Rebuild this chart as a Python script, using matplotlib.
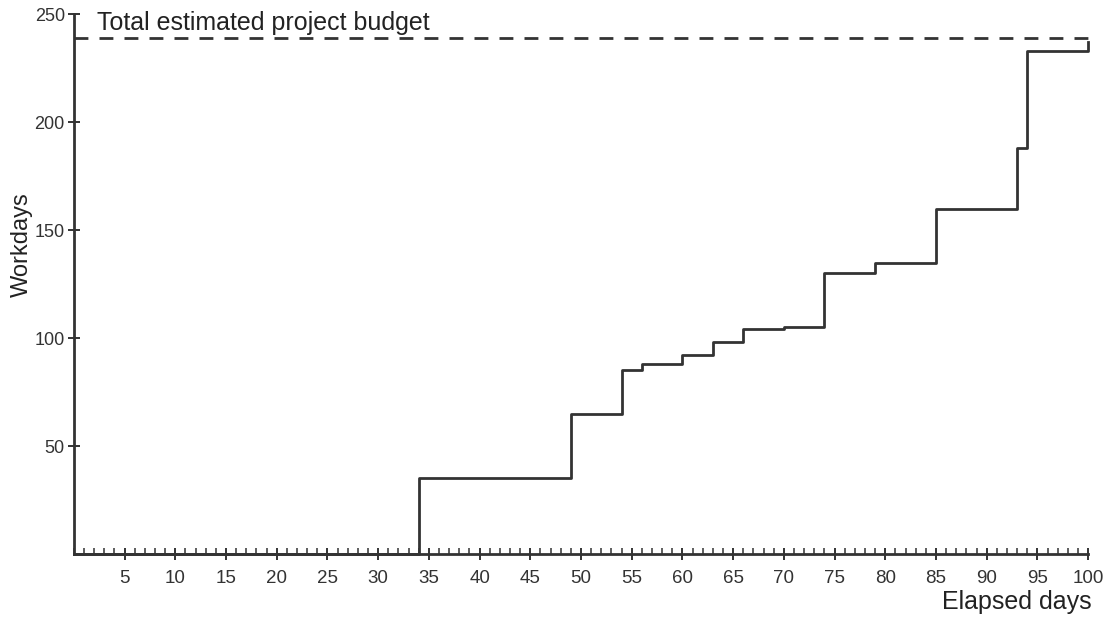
import numpy as np
import matplotlib.pyplot as plt
from matplotlib.ticker import MultipleLocator

plt.rcParams['font.family'] = ['Liberation Sans', 'DejaVu Sans']

# 경과일 / 누적 작업일 (계단형)
days = [0, 34, 49, 54, 56, 60, 63, 66, 70, 74, 79, 85, 93, 94, 100]
workdays = [0, 35, 65, 85, 88, 92, 98, 104, 105, 130, 135, 160, 188, 233, 237]
budget = 239
budget_label = 'Total estimated project budget'
x_ticks = list(range(5, 101, 5))
y_ticks = [50, 100, 150, 200, 250]

fig = plt.figure(figsize=(11.03, 6.2), dpi=100)
ax = fig.add_axes([0.067, 0.1065, 0.9195, 0.8705])

ax.step(days, workdays, where='post', color='#333333', lw=2.0, clip_on=False)
ax.axhline(budget, color='#333333', lw=2.0, ls=(0, (5, 4)), clip_on=False)
ax.text(2.3, 242.5, budget_label, fontsize=18, va='baseline', ha='left', color='#222222')

ax.set_xlim(0, 100)
ax.set_ylim(0, 250)
ax.set_xticks(x_ticks)
ax.set_yticks(y_ticks)
ax.xaxis.set_minor_locator(MultipleLocator(1))

for s in ['top', 'right']:
    ax.spines[s].set_visible(False)
for s in ['left', 'bottom']:
    ax.spines[s].set_linewidth(2.0)
    ax.spines[s].set_color('#333333')

ax.tick_params(axis='x', which='major', direction='inout', length=9, width=1.4,
               labelsize=13.5, pad=7, colors='#333333')
ax.tick_params(axis='x', which='minor', direction='in', length=4, width=1.1, colors='#333333')
ax.tick_params(axis='y', which='major', direction='inout', length=9, width=1.4,
               labelsize=13, pad=2, colors='#333333')

ax.set_ylabel('Workdays', fontsize=17, color='#222222')
ax.yaxis.set_label_coords(-0.040, 0.574)
ax.set_xlabel('Elapsed days', fontsize=18, color='#222222')
ax.xaxis.set_label_coords(1.0035, -0.067)
ax.xaxis.label.set_horizontalalignment('right')

fig.savefig('out.png', dpi=100)
